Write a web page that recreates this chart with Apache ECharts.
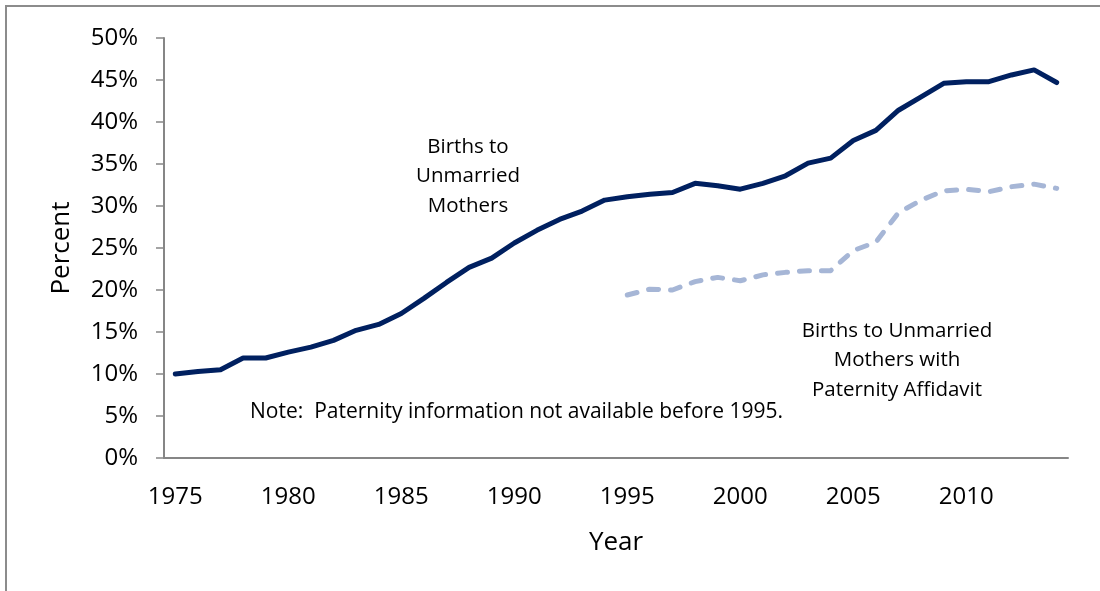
<!DOCTYPE html>
<html>
<head>
<meta charset="utf-8">
<script src="https://cdn.jsdelivr.net/npm/echarts@6/dist/echarts.min.js"></script>
<style>
  html, body { margin: 0; padding: 0; background: #fff; }
  #chart { width: 1100px; height: 591px; }
</style>
</head>
<body>
<div id="chart"></div>
<script>
const years = []
for (let y = 1975; y <= 2014; y++) years.push(String(y))

// percent of births to unmarried mothers, 1975-2014
const unmarried = [
  10.0, 10.3, 10.5, 11.9, 11.9, 12.6, 13.2, 14.0, 15.2, 15.9,
  17.2, 19.0, 20.9, 22.7, 23.8, 25.6, 27.1, 28.4, 29.4, 30.7,
  31.1, 31.4, 31.6, 32.7, 32.4, 32.0, 32.7, 33.6, 35.1, 35.7,
  37.8, 39.0, 41.4, 43.0, 44.6, 44.8, 44.8, 45.6, 46.2, 44.7
]

// with paternity affidavit, available from 1995
const affidavit = [
  null, null, null, null, null, null, null, null, null, null,
  null, null, null, null, null, null, null, null, null, null,
  19.4, 20.1, 20.0, 21.0, 21.5, 21.1, 21.8, 22.1, 22.3, 22.3,
  24.7, 25.7, 29.2, 30.7, 31.8, 32.0, 31.7, 32.3, 32.6, 32.1
]

const font = 'Open Sans'
const axisGrey = '#868686'

const chart = echarts.init(document.getElementById('chart'))

chart.setOption({
  animation: false,
  textStyle: { fontFamily: font, color: '#000' },
  grid: { left: 164, right: 32, top: 38, bottom: 133 },
  xAxis: {
    type: 'category',
    data: years,
    boundaryGap: true,
    name: 'Year',
    nameLocation: 'middle',
    nameGap: 72,
    nameTextStyle: { fontSize: 26, fontFamily: font, color: '#000' },
    axisLine: { lineStyle: { color: axisGrey, width: 2 } },
    axisTick: { inside: true, length: 7, interval: 0, lineStyle: { color: axisGrey, width: 1.5 } },
    axisLabel: { interval: 4, fontSize: 24, margin: 27, color: '#000', fontFamily: font },
    splitLine: { show: false }
  },
  yAxis: {
    type: 'value',
    min: 0,
    max: 50,
    interval: 5,
    name: 'Percent',
    nameLocation: 'middle',
    nameRotate: 90,
    nameGap: 89,
    nameTextStyle: { fontSize: 26, fontFamily: font, color: '#000' },
    axisLine: { show: true, lineStyle: { color: axisGrey, width: 2 } },
    axisTick: { show: true, length: 8, lineStyle: { color: axisGrey, width: 1.5 } },
    axisLabel: { formatter: '{value}%', fontSize: 24, margin: 26, color: '#000', fontFamily: font },
    splitLine: { show: false }
  },
  series: [
    {
      name: 'Births to Unmarried Mothers',
      type: 'line',
      data: unmarried,
      symbol: 'none',
      lineStyle: { color: '#002060', width: 5, cap: 'round', join: 'round' }
    },
    {
      name: 'Births to Unmarried Mothers with Paternity Affidavit',
      type: 'line',
      data: affidavit,
      symbol: 'none',
      connectNulls: false,
      lineStyle: { color: '#a6b6d6', width: 5, type: [10, 12], cap: 'round', join: 'round' }
    }
  ],
  graphic: [
    {
      type: 'polyline',
      shape: { points: [[6, 591], [6, 6], [1100, 6]] },
      style: { stroke: '#8c8c8c', lineWidth: 2, fill: null },
      silent: true
    },
    {
      type: 'text',
      x: 468, y: 132,
      style: {
        text: 'Births to\nUnmarried\nMothers',
        font: '20.5px "Open Sans"', fill: '#000',
        textAlign: 'center', lineHeight: 29.5
      }
    },
    {
      type: 'text',
      x: 897, y: 316,
      style: {
        text: 'Births to Unmarried\nMothers with\nPaternity Affidavit',
        font: '20.5px "Open Sans"', fill: '#000',
        textAlign: 'center', lineHeight: 29.5
      }
    },
    {
      type: 'text',
      x: 250, y: 402,
      style: {
        text: 'Note:  Paternity information not available before 1995.',
        font: '21px "Open Sans"', fill: '#000'
      }
    }
  ]
})
</script>
</body>
</html>
